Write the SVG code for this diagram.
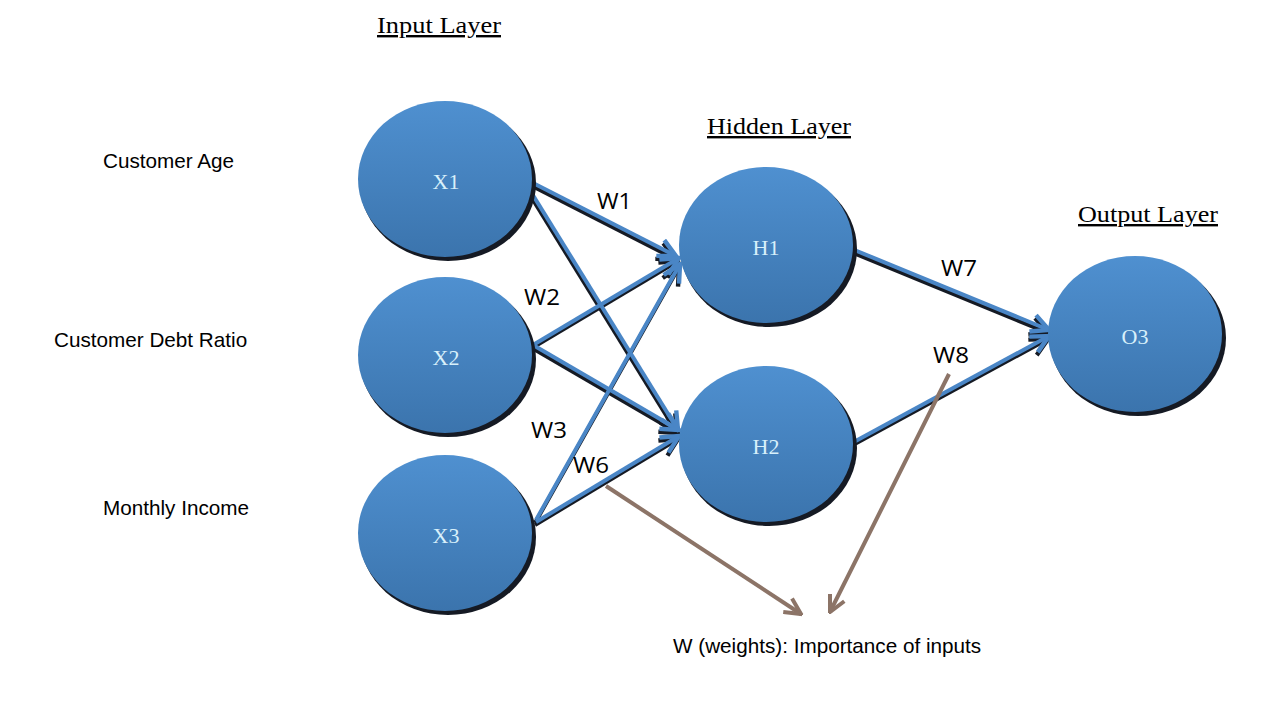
<svg xmlns="http://www.w3.org/2000/svg" width="1271" height="727" viewBox="0 0 1271 727">
<style>
.node{fill:url(#g)}
.sh{fill:#151a24}
.nl{font-family:"Liberation Serif","DejaVu Serif",serif;font-size:22px;fill:#d8f0fb;text-anchor:middle}
.ttl{font-family:"Liberation Serif","DejaVu Serif",serif;font-size:24px;fill:#000;text-decoration:underline}
.lbl{font-family:"Liberation Sans",Arial,sans-serif;font-size:20.7px;fill:#000}
.w{font-family:"Open Sans","Liberation Sans",sans-serif;font-size:22px;fill:#000}
.e{stroke:#4a86c6;stroke-width:4;fill:none;marker-end:url(#ah)}
.es{stroke:#151a24;stroke-width:4;fill:none;marker-end:url(#ahs)}
.b{stroke:#8c7467;stroke-width:4;fill:none;marker-end:url(#ab)}
</style>
<defs>
<linearGradient id="g" x1="0" y1="0" x2="0" y2="1">
<stop offset="0" stop-color="#4f90d0"/>
<stop offset="1" stop-color="#3b74ad"/>
</linearGradient>
<marker id="ah" viewBox="0 0 10 10" refX="9" refY="5" markerWidth="5.5" markerHeight="5.5" orient="auto" markerUnits="strokeWidth">
<path d="M1,1 L9,5 L1,9" fill="none" stroke="#4a86c6" stroke-width="2"/>
</marker>
<marker id="ahs" viewBox="0 0 10 10" refX="9" refY="5" markerWidth="5.5" markerHeight="5.5" orient="auto" markerUnits="strokeWidth">
<path d="M1,1 L9,5 L1,9" fill="none" stroke="#151a24" stroke-width="2"/>
</marker>
<marker id="ab" viewBox="0 0 10 10" refX="9" refY="5" markerWidth="5" markerHeight="5" orient="auto" markerUnits="strokeWidth">
<path d="M1,1 L9,5 L1,9" fill="none" stroke="#8c7467" stroke-width="2"/>
</marker>
</defs>
<rect width="1271" height="727" fill="#fff"/>
<g id="titles">
<text class="ttl" x="377" y="33" textLength="124" lengthAdjust="spacingAndGlyphs">Input Layer</text>
<text class="ttl" x="707" y="134" textLength="144" lengthAdjust="spacingAndGlyphs">Hidden Layer</text>
<text class="ttl" x="1078" y="222" textLength="140" lengthAdjust="spacingAndGlyphs">Output Layer</text>
</g>
<g id="labels">
<text class="lbl" x="103" y="168">Customer Age</text>
<text class="lbl" x="54" y="347">Customer Debt Ratio</text>
<text class="lbl" x="103" y="515">Monthly Income</text>
<text class="lbl" x="673" y="653">W (weights): Importance of inputs</text>
</g>
<g id="connectors">
<g transform="translate(-1,3)">
<line class="es" x1="533" y1="183" x2="676" y2="256"/>
<line class="es" x1="531" y1="192" x2="678" y2="430"/>
<line class="es" x1="533" y1="345" x2="679" y2="258"/>
<line class="es" x1="533" y1="345" x2="679" y2="430"/>
<line class="es" x1="536" y1="520" x2="680" y2="264"/>
<line class="es" x1="536" y1="522" x2="679" y2="436"/>
<line class="es" x1="852" y1="249" x2="1049" y2="330"/>
<line class="es" x1="852" y1="443" x2="1049" y2="336"/>
</g>
<line class="e" x1="533" y1="183" x2="676" y2="256"/>
<line class="e" x1="531" y1="192" x2="678" y2="430"/>
<line class="e" x1="533" y1="345" x2="679" y2="258"/>
<line class="e" x1="533" y1="345" x2="679" y2="430"/>
<line class="e" x1="536" y1="520" x2="680" y2="264"/>
<line class="e" x1="536" y1="522" x2="679" y2="436"/>
<line class="e" x1="852" y1="249" x2="1049" y2="330"/>
<line class="e" x1="852" y1="443" x2="1049" y2="336"/>
<line class="b" x1="606" y1="486" x2="801" y2="614"/>
<line class="b" x1="949" y1="374" x2="830" y2="612"/>
</g>
<g id="weights">
<text class="w" x="597" y="209" textLength="35" lengthAdjust="spacingAndGlyphs">W1</text>
<text class="w" x="524" y="305" textLength="36" lengthAdjust="spacingAndGlyphs">W2</text>
<text class="w" x="531" y="438" textLength="36" lengthAdjust="spacingAndGlyphs">W3</text>
<text class="w" x="573" y="473" textLength="36" lengthAdjust="spacingAndGlyphs">W6</text>
<text class="w" x="941" y="276" textLength="36" lengthAdjust="spacingAndGlyphs">W7</text>
<text class="w" x="933" y="363" textLength="36" lengthAdjust="spacingAndGlyphs">W8</text>
</g>
<g id="X1"><ellipse class="sh" cx="448" cy="183" rx="88" ry="78"/><ellipse class="node" cx="445" cy="179" rx="87" ry="78"/><text class="nl" x="446" y="189">X1</text></g>
<g id="X2"><ellipse class="sh" cx="448" cy="359" rx="88" ry="78"/><ellipse class="node" cx="445" cy="355" rx="87" ry="78"/><text class="nl" x="446" y="365">X2</text></g>
<g id="X3"><ellipse class="sh" cx="448" cy="537" rx="88" ry="78"/><ellipse class="node" cx="445" cy="533" rx="87" ry="78"/><text class="nl" x="446" y="543">X3</text></g>
<g id="H1"><ellipse class="sh" cx="769" cy="249" rx="88" ry="78"/><ellipse class="node" cx="766" cy="245" rx="87" ry="78"/><text class="nl" x="766" y="255">H1</text></g>
<g id="H2"><ellipse class="sh" cx="769" cy="448" rx="88" ry="78"/><ellipse class="node" cx="766" cy="444" rx="87" ry="78"/><text class="nl" x="766" y="454">H2</text></g>
<g id="O3"><ellipse class="sh" cx="1138" cy="338" rx="88" ry="78"/><ellipse class="node" cx="1135" cy="334" rx="87" ry="78"/><text class="nl" x="1135" y="344">O3</text></g>
</svg>
